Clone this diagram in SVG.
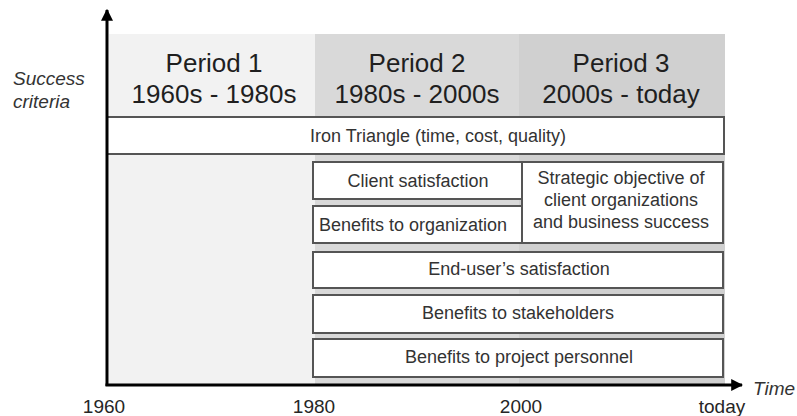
<svg xmlns="http://www.w3.org/2000/svg" width="797" height="416" viewBox="0 0 797 416">
<style>
.hdr{font-family:"Liberation Sans",Arial,sans-serif;font-size:26px;fill:#1f1f1f;text-anchor:middle}
.lbl{font-family:"Liberation Sans",Arial,sans-serif;font-size:18px;fill:#333;text-anchor:middle}
.ax{font-family:"Liberation Sans",Arial,sans-serif;font-size:19px;fill:#262626;text-anchor:middle}
.it{font-family:"Liberation Sans",Arial,sans-serif;font-size:19px;fill:#333;font-style:italic}
.box{fill:#fff;stroke:#555;stroke-width:2}
</style>
<defs>
<marker id="arr" viewBox="0 0 10 10" refX="9" refY="5" markerWidth="4" markerHeight="4" orient="auto" markerUnits="strokeWidth">
<path d="M0,0 L10,5 L0,10 z" fill="#000"/>
</marker>
</defs>
<rect width="797" height="416" fill="#fff"/>
<g id="period1">
<rect x="109" y="34" width="206" height="351" fill="#f2f2f2"/>
<text class="hdr" x="214" y="72">Period 1</text>
<text class="hdr" x="214" y="103">1960s - 1980s</text>
</g>
<g id="period2">
<rect x="315" y="34" width="204" height="351" fill="#d9d9d9"/>
<text class="hdr" x="417" y="72">Period 2</text>
<text class="hdr" x="417" y="103">1980s - 2000s</text>
</g>
<g id="period3">
<rect x="519" y="34" width="206" height="351" fill="#d0d0d0"/>
<text class="hdr" x="621" y="72">Period 3</text>
<text class="hdr" x="621" y="103">2000s - today</text>
</g>
<g id="iron-triangle">
<rect class="box" x="107" y="117" width="617" height="37"/>
<text class="lbl" x="438" y="142">Iron Triangle (time, cost, quality)</text>
</g>
<g id="client-satisfaction">
<rect class="box" x="313" y="162" width="209" height="37"/>
<text class="lbl" x="418" y="187">Client satisfaction</text>
</g>
<g id="benefits-organization">
<rect class="box" x="313" y="206" width="209" height="37"/>
<text class="lbl" x="413" y="231">Benefits to organization</text>
</g>
<g id="strategic-objective">
<rect class="box" x="522" y="162" width="201" height="81"/>
<text class="lbl" x="621" y="184">Strategic objective of</text>
<text class="lbl" x="621" y="206">client organizations</text>
<text class="lbl" x="621" y="228">and business success</text>
</g>
<g id="end-user">
<rect class="box" x="313" y="252" width="410" height="36"/>
<text class="lbl" x="519" y="275">End-user’s satisfaction</text>
</g>
<g id="stakeholders">
<rect class="box" x="313" y="295" width="410" height="38"/>
<text class="lbl" x="518" y="319">Benefits to stakeholders</text>
</g>
<g id="project-personnel">
<rect class="box" x="313" y="339" width="410" height="38"/>
<text class="lbl" x="519" y="363">Benefits to project personnel</text>
</g>
<g id="connectors">
<line x1="107" y1="386" x2="107" y2="10" stroke="#000" stroke-width="3" marker-end="url(#arr)"/>
<line x1="105.5" y1="385" x2="742" y2="385" stroke="#000" stroke-width="3" marker-end="url(#arr)"/>
</g>
<g id="axis-labels">
<text class="it" x="13" y="85">Success</text>
<text class="it" x="13" y="108">criteria</text>
<text class="it" x="753" y="395">Time</text>
<text class="ax" x="104" y="413">1960</text>
<text class="ax" x="314" y="413">1980</text>
<text class="ax" x="521" y="413">2000</text>
<text class="ax" x="722" y="413">today</text>
</g>
</svg>
